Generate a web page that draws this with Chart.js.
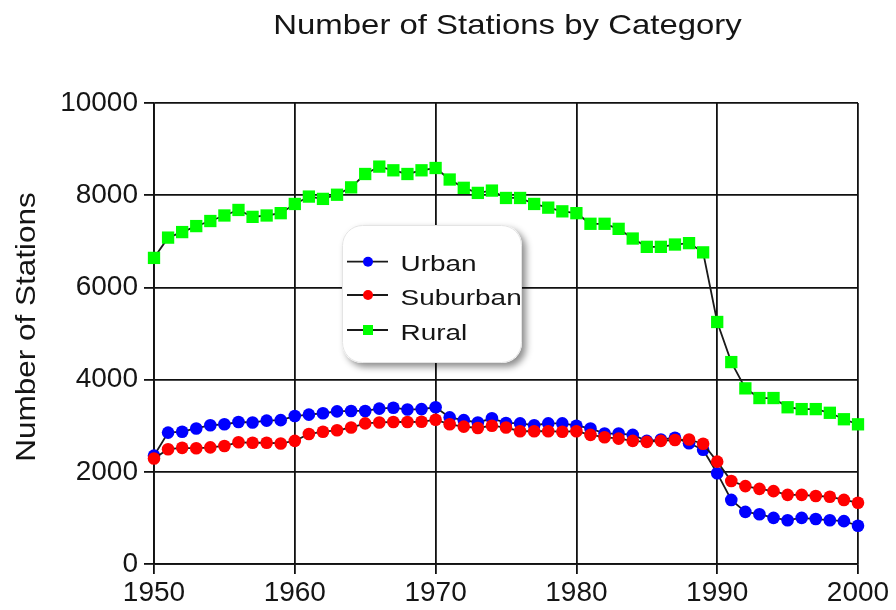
<!DOCTYPE html>
<html>
<head>
<meta charset="utf-8">
<script src="https://cdn.jsdelivr.net/npm/chart.js@4.4.0/dist/chart.umd.min.js"></script>
<style>
  html, body { margin: 0; padding: 0; background: #fff; }
  #wrap { width: 896px; height: 610px; }
</style>
</head>
<body>
<div id="wrap"><canvas id="c" width="896" height="610"></canvas></div>
<script>
const chartTitle = "Number of Stations by Category";
const yAxisTitle = "Number of Stations";
const seriesNames = ["Urban", "Suburban", "Rural"];
const xTicks = [1950, 1960, 1970, 1980, 1990, 2000];
const yTicks = [0, 2000, 4000, 6000, 8000, 10000];

const years = [1950,1951,1952,1953,1954,1955,1956,1957,1958,1959,
               1960,1961,1962,1963,1964,1965,1966,1967,1968,1969,
               1970,1971,1972,1973,1974,1975,1976,1977,1978,1979,
               1980,1981,1982,1983,1984,1985,1986,1987,1988,1989,
               1990,1991,1992,1993,1994,1995,1996,1997,1998,1999,2000];

const urban = [2350,2850,2870,2940,3010,3030,3080,3070,3110,3120,
               3210,3240,3270,3310,3320,3320,3370,3390,3350,3360,
               3400,3180,3120,3070,3160,3060,3050,3010,3050,3050,
               3000,2940,2830,2830,2800,2670,2700,2740,2620,2480,
               1970,1390,1130,1080,1000,950,1000,975,950,930,830];

const suburban = [2290,2490,2520,2510,2530,2560,2640,2630,2630,2615,
                  2670,2820,2870,2900,2960,3050,3070,3080,3080,3085,
                  3130,3030,2980,2950,3000,2960,2880,2880,2880,2870,
                  2880,2800,2750,2720,2670,2650,2670,2690,2700,2610,
                  2220,1800,1690,1630,1580,1500,1500,1475,1460,1390,1330];

const rural = [6640,7080,7200,7330,7440,7560,7680,7530,7560,7610,
               7810,7970,7920,8010,8170,8460,8620,8540,8460,8540,
               8590,8340,8160,8050,8100,7940,7940,7810,7730,7650,
               7610,7380,7380,7270,7060,6880,6880,6930,6960,6760,
               5250,4380,3810,3600,3600,3400,3360,3360,3280,3140,3030];

const colors = ["#0000ff", "#ff0000", "#00ff00"];
const styles = ["circle", "circle", "rect"];
const radii = [6.3, 6.3, 8.7];
const seriesValues = [urban, suburban, rural];

function pts(vals) { return years.map((y, i) => ({ x: y, y: vals[i] })); }

const datasets = seriesNames.map((name, k) => ({
  label: name,
  data: pts(seriesValues[k]),
  borderColor: "#1a1a1a",
  borderWidth: 1.8,
  pointStyle: styles[k],
  pointRadius: radii[k],
  pointHoverRadius: radii[k],
  pointBackgroundColor: colors[k],
  pointBorderColor: colors[k],
  pointBorderWidth: 0,
  tension: 0,
  clip: false,
  order: 3 - k
}));

const TEXT = "#151515";

const overlay = {
  id: "overlay",
  afterDraw(chart) {
    const ctx = chart.ctx;
    // Title
    ctx.save();
    ctx.fillStyle = TEXT;
    ctx.font = "28px 'Liberation Sans', Arial, sans-serif";
    ctx.textAlign = "center";
    ctx.textBaseline = "alphabetic";
    ctx.translate(507.5, 34);
    ctx.scale(1.176, 1);
    ctx.fillText(chartTitle, 0, 0);
    ctx.restore();

    // Y axis title
    ctx.save();
    ctx.fillStyle = TEXT;
    ctx.font = "28px 'Liberation Sans', Arial, sans-serif";
    ctx.textAlign = "center";
    ctx.textBaseline = "alphabetic";
    ctx.translate(35, 327);
    ctx.rotate(-Math.PI / 2);
    ctx.scale(1.125, 1);
    ctx.fillText(yAxisTitle, 0, 0);
    ctx.restore();

    // Legend box
    const bx = 342, by = 225, bw = 180, bh = 138, br = 20;
    ctx.save();
    ctx.shadowColor = "rgba(0,0,0,0.45)";
    ctx.shadowBlur = 7;
    ctx.shadowOffsetX = 4;
    ctx.shadowOffsetY = 4;
    ctx.fillStyle = "#fff";
    ctx.beginPath();
    ctx.roundRect(bx, by, bw, bh, br);
    ctx.fill();
    ctx.restore();
    ctx.save();
    ctx.strokeStyle = "#e4e4e4";
    ctx.lineWidth = 1;
    ctx.beginPath();
    ctx.roundRect(bx + 0.5, by + 0.5, bw - 1, bh - 1, br);
    ctx.stroke();
    ctx.restore();

    const rowsY = [261.7, 295, 330];
    seriesNames.forEach((name, k) => {
      const y = rowsY[k];
      ctx.save();
      ctx.strokeStyle = "#1a1a1a";
      ctx.lineWidth = 1.8;
      ctx.beginPath();
      ctx.moveTo(347, y);
      ctx.lineTo(388, y);
      ctx.stroke();
      ctx.fillStyle = colors[k];
      if (styles[k] === "rect") {
        ctx.fillRect(368 - 5, y - 5, 10, 10);
      } else {
        ctx.beginPath();
        ctx.arc(368, y, 5, 0, Math.PI * 2);
        ctx.fill();
      }
      ctx.fillStyle = TEXT;
      ctx.font = "22px 'Liberation Sans', Arial, sans-serif";
      ctx.textAlign = "left";
      ctx.textBaseline = "alphabetic";
      ctx.translate(400.5, y + 9.5);
      ctx.scale(1.27, 1);
      ctx.fillText(name, 0, 0);
      ctx.restore();
    });
  }
};

new Chart(document.getElementById("c"), {
  type: "line",
  data: { datasets },
  plugins: [overlay],
  options: {
    responsive: false,
    animation: false,
    devicePixelRatio: 1,
    layout: { padding: { left: 0, right: 38, top: 103, bottom: 0 } },
    plugins: {
      legend: { display: false },
      title: { display: false },
      tooltip: { enabled: false }
    },
    scales: {
      x: {
        type: "linear",
        min: 1950,
        max: 2000,
        afterFit(scale) { scale.height = 46; },
        afterBuildTicks(scale) { scale.ticks = xTicks.map(v => ({ value: v })); },
        ticks: {
          color: TEXT,
          padding: 2,
          maxRotation: 0,
          font: { family: "'Liberation Sans', Arial, sans-serif", size: 28 },
          callback: v => String(v)
        },
        grid: { color: "#111", lineWidth: 1.8, tickLength: 10, drawTicks: true },
        border: { color: "#111", width: 1.8 }
      },
      y: {
        type: "linear",
        min: 0,
        max: 10000,
        afterFit(scale) { scale.width = 154; },
        afterBuildTicks(scale) { scale.ticks = yTicks.map(v => ({ value: v })); },
        ticks: {
          color: TEXT,
          padding: 6,
          font: { family: "'Liberation Sans', Arial, sans-serif", size: 28 },
          callback: v => String(v)
        },
        grid: { color: "#111", lineWidth: 1.8, tickLength: 10, drawTicks: true },
        border: { color: "#111", width: 1.8 }
      }
    }
  }
});
</script>
</body>
</html>
